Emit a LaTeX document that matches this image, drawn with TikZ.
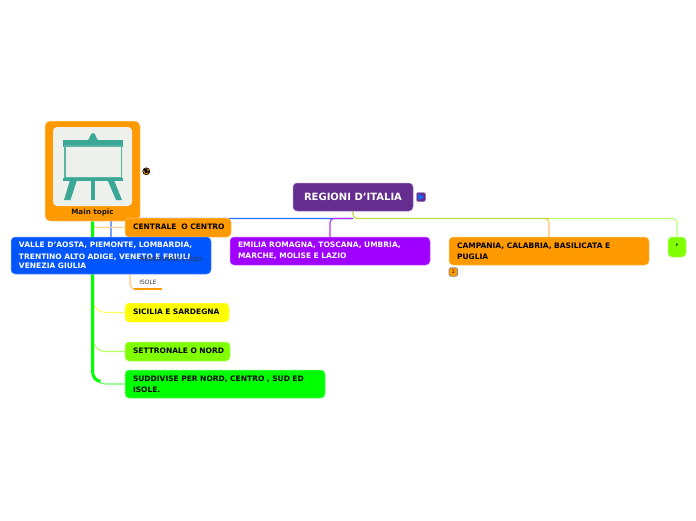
\documentclass[tikz,border=0pt]{standalone}
\usepackage{fontspec}
\setmainfont{DejaVu Sans}
\usepackage{xcolor}
\usetikzlibrary{backgrounds}
\definecolor{froot}{HTML}{662D91}
\definecolor{fblue}{HTML}{0055FF}
\definecolor{fviolet}{HTML}{A000FF}
\definecolor{forange}{HTML}{FF9900}
\definecolor{flime}{HTML}{80FF00}
\definecolor{fgreen}{HTML}{00FF00}
\definecolor{fyellow}{HTML}{FFFF00}
\definecolor{fstem}{HTML}{B8DC3C}
\definecolor{fteal}{HTML}{3BA795}
\definecolor{fpaper}{HTML}{EEF0EC}
\tikzset{
  topicbox/.style={rounded corners=4pt, align=left, inner xsep=8pt, inner ysep=0pt,
    font=\fontsize{7.5}{9.3}\selectfont\bfseries, line width=0.5pt},
  twig/.style={line width=1.1pt, rounded corners=4pt},
  smalltext/.style={inner sep=0pt, font=\fontsize{5.9}{7}\selectfont},
}
\begin{document}
\begin{tikzpicture}[x=1pt, y=-1pt]
\useasboundingbox (0,0) rectangle (696,520);
% =================== main topic with the easel ===================
\node[fill=forange, draw=forange!40, line width=0.5pt, rounded corners=5pt, minimum width=95pt, minimum height=100pt, inner sep=0pt] (main) at (92.5,171) {};
\node[fill=fpaper, rounded corners=4pt, minimum width=79pt, minimum height=79pt, inner sep=0pt] (easel) at (92.5,166.5) {};
\fill[fteal] (88,140) .. controls (90,139) and (90,133) .. (93,133) .. controls (96,133) and (96,139) .. (98,140) -- cycle;
\fill[fteal] (62.5,140) rectangle (122.5,146.5);
\draw[fteal!85, line width=1.4pt] (65,146) rectangle (121.5,178);
\fill[fteal] (62.5,177.5) rectangle (122.5,180.5);
\fill[fteal] (70,180) -- (77,180) -- (70.5,200) -- (64,200) -- cycle;
\fill[fteal] (90.5,180) rectangle (95,200);
\fill[fteal] (107.5,180) -- (114,180) -- (122,200) -- (116,200) -- cycle;
\node[font=\fontsize{7.2}{9}\selectfont\bfseries, text=black!90, inner sep=0pt] (mainlabel) at (92.5,212.5) {Main topic};
% =================== topic boxes ===================
\node[topicbox, fill=froot, draw=froot!60, minimum width=120pt, minimum height=28pt, text=white, font=\fontsize{10}{12}\selectfont\bfseries] (root) at (353,197) {REGIONI D'ITALIA};
\foreach \nm/\cx/\cy/\tw/\bh/\col/\txtcol/\lb in {
  centrale/178/227.5/90/19/forange/black/{\mbox{CENTRALE\ \ O CENTRO}},
  valle/111/255.5/184/37/fblue/white/{VALLE D'AOSTA, PIEMONTE, LOMBARDIA,\\TRENTINO ALTO ADIGE, VENETO E FRIULI\\VENEZIA GIULIA},
  emilia/330/251/184/28/fviolet/white/{EMILIA ROMAGNA, TOSCANA, UMBRIA,\\MARCHE, MOLISE E LAZIO},
  campania/549/251/184/28/forange/black/{CAMPANIA, CALABRIA, BASILICATA E\\PUGLIA},
  sicilia/177/312.5/88/19/fyellow/black/{\mbox{SICILIA E SARDEGNA}},
  settronale/177.5/351.5/89/19/flime/black/{\mbox{SETTRONALE O NORD}},
  suddivise/225/384/184/28/fgreen/black/{SUDDIVISE PER NORD, CENTRO , SUD ED\\ISOLE.}}{
  \node[topicbox, fill=\col, draw=\col!55, text=\txtcol, text width=\tw pt, minimum height=\bh pt] (\nm) at (\cx,\cy) {\vspace{2pt}\lb};
}
\node[topicbox, fill=flime, draw=flime!55, inner xsep=0pt, minimum width=18pt, minimum height=20pt, align=center] (dot) at (677,247) {'};
\node[smalltext, text=black!80] (meridionale) at (170.5,259) {MERIDIONALE O SUD};
\node[smalltext, text=black!80, minimum width=28pt, minimum height=14pt] (isole) at (148,282) {ISOLE};
% =================== small icons ===================
\node[circle, fill=forange, draw=black, line width=0.6pt, minimum size=7pt, inner sep=0pt] (globe) at (146.3,171.3) {};
\fill[black] (144,169) -- (147.5,168.5) -- (147,172.5) -- (145,173.5) -- cycle;
\fill[black] (147,171.5) -- (149.2,170.5) -- (148.2,174.2) -- cycle;
\node[rounded corners=1.5pt, fill=froot, draw=froot!70, minimum size=9pt, inner sep=0pt] (noteicon) at (421,197) {};
\fill[fblue!80!cyan] (418.3,194) -- (424,197) -- (418.3,200) -- cycle;
\node[rounded corners=1.5pt, fill=forange, draw=black!45, line width=0.7pt, minimum size=8.5pt, inner sep=0pt, font=\fontsize{5}{6}\selectfont] (badge) at (453.3,272) {1};
% =================== connectors ===================
\coordinate (bus) at (353,218.5);
\coordinate (tap) at (130,237);
\begin{scope}[on background layer]
\draw[twig, fblue!85] (bus) -| (valle.north);
\draw[twig, fviolet!80] (bus) -| (emilia.north);
\draw[twig, forange!60] (campania.north |- bus) ++(-5,0) -| (campania.north);
\draw[twig, flime!55] (campania.north |- bus) -| (dot.north);
\draw[twig, fstem] (root.south) -- (bus) -- (campania.north |- bus);
\draw[twig, forange!45] (main.south) |- (centrale.west);
\draw[twig, forange!55, rounded corners=5pt] (tap) |- (isole.south west);
\draw[line width=2.4pt, forange] (isole.south west) -- (isole.south east);
\foreach \nm/\col in {sicilia/fyellow!60, settronale/flime!60, suddivise/fgreen!60}{
  \draw[twig, \col, rounded corners=13pt] (main.south) |- (\nm.west);
}
\draw[line width=3pt, fgreen] (main.south) -- ++(0,150) .. controls ++(0,6) and ++(-4,0) .. ++(8,10);
\end{scope}
\end{tikzpicture}
\end{document}
